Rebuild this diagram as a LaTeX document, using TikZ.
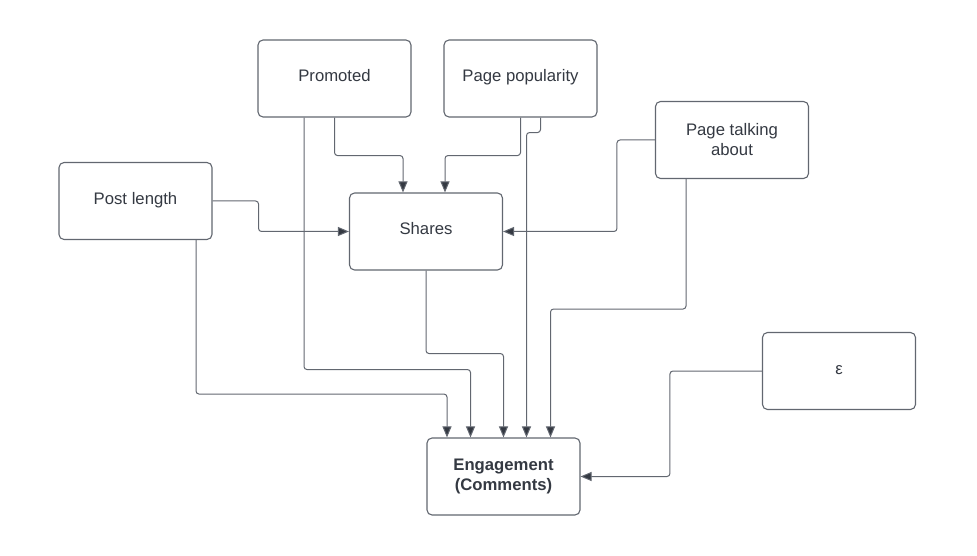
\documentclass[tikz,border=0pt]{standalone}
\usepackage{fontspec}
\setmainfont{Liberation Sans}
\usetikzlibrary{arrows.meta}
\definecolor{inkc}{RGB}{52,57,66}
\definecolor{lineg}{RGB}{98,103,112}
\begin{document}
\begin{tikzpicture}[x=1pt, y=-1pt,
        varbox/.style={draw=lineg, line width=1.1pt, rounded corners=5pt, fill=white,
            minimum width=153pt, minimum height=77pt, align=center, text=inkc,
            font=\fontsize{16.7}{20}\selectfont},
        oneline/.style={varbox, text height=12pt, text depth=5pt},
        link/.style={draw=lineg, line width=1pt, rounded corners=3pt,
            -{Triangle[length=11pt, width=9pt, fill=inkc]}}]
    \useasboundingbox (0, 0) rectangle (977, 556);
    %\draw[lightgray, step=50] (0, 0) grid (977, 556);
    \node[oneline] (promo) at (334.5, 78.5) {Promoted};
    \node[oneline] (popul) at (520.5, 78.5) {Page popularity};
    \node[varbox] (talk) at (732, 140) {Page talking\\about};
    \node[oneline] (plen) at (135.5, 201) {Post length};
    \node[oneline] (shares) at (426, 231.5) {Shares};
    \node[oneline] (eps) at (839, 371) {ε};
    \node[varbox] (engage) at (503.5, 476.5) {\bfseries Engagement\\\bfseries (Comments)};
    \draw[link] (plen.east) -- ++(46, 0) |- (shares.west);
    \draw[link] (promo.south) -- ++(0, 38) -| ([xshift=-23pt]shares.north);
    \draw[link] (popul.south) -- ++(0, 38) -| ([xshift=19pt]shares.north);
    \draw[link] (talk.west) -- ++(-38, 0) |- (shares.east);
    \draw[link] ([xshift=60.5pt]plen.south) -- ++(0, 154) -| ([xshift=-56.5pt]engage.north);
    \draw[link] ([xshift=-30.5pt]promo.south) -- ++(0, 252) -| ([xshift=-33pt]engage.north);
    \draw[link] (shares.south) -- ++(0, 83) -| (engage.north);
    \draw[link] ([xshift=20pt]popul.south) -- ++(0, 15) -| ([xshift=23pt]engage.north);
    \draw[link] ([xshift=-46pt]talk.south) -- ++(0, 130) -| ([xshift=47pt]engage.north);
    \draw[link] (eps.west) -- ++(-92, 0) |- (engage.east);
\end{tikzpicture}
\end{document}
